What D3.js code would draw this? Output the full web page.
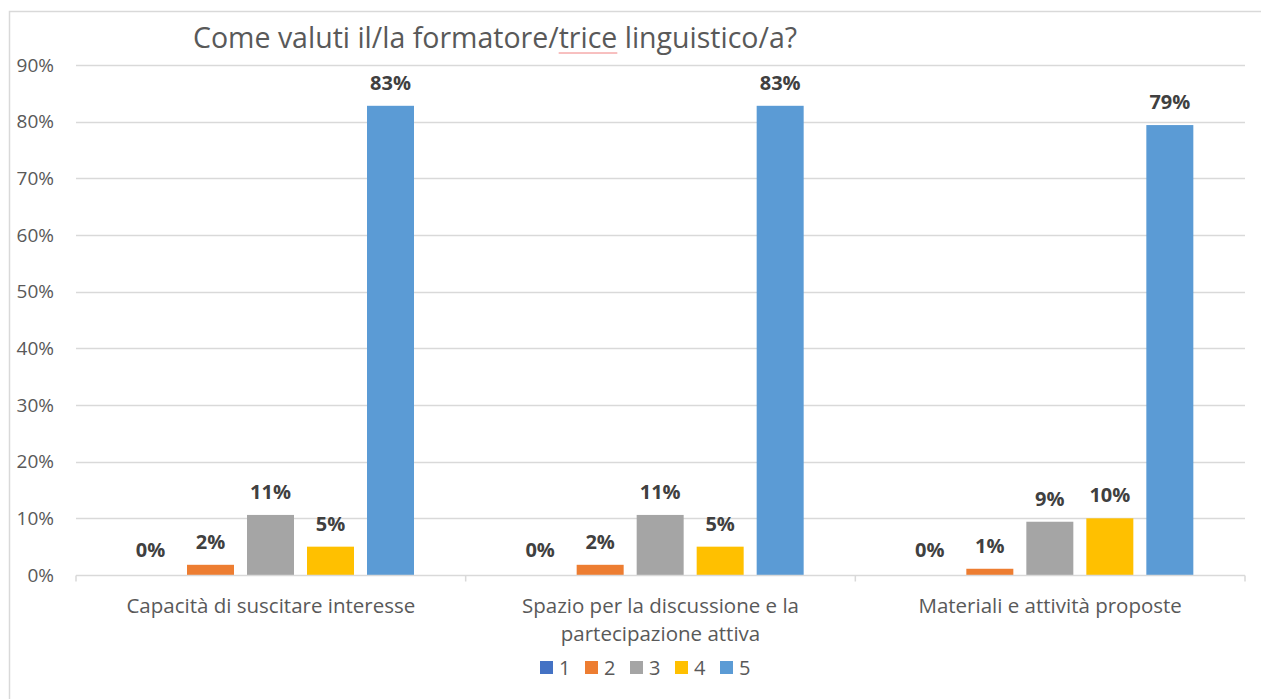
<!DOCTYPE html>
<html>
<head>
<meta charset="utf-8">
<script src="https://cdn.jsdelivr.net/npm/d3@7"></script>
<style>
  body { margin: 0; background: #fff; }
  text { font-family: "Open Sans", "Noto Sans", sans-serif; }
</style>
</head>
<body>
<div id="chart"></div>
<script>
var categories = [
  ["Capacità di suscitare interesse"],
  ["Spazio per la discussione e la", "partecipazione attiva"],
  ["Materiali e attività proposte"]
];
var series = ["1", "2", "3", "4", "5"];
var colors = ["#4472C4", "#ED7D31", "#A5A5A5", "#FFC000", "#5B9BD5"];
// one array per rating, one value per category
var rating1 = [0, 0, 0];
var rating2 = [0.018, 0.018, 0.011];
var rating3 = [0.106, 0.106, 0.094];
var rating4 = [0.05, 0.05, 0.10];
var rating5 = [0.828, 0.828, 0.794];
var yTicks = [0, 0.1, 0.2, 0.3, 0.4, 0.5, 0.6, 0.7, 0.8, 0.9];

var values = [rating1, rating2, rating3, rating4, rating5];

var width = 1261,
    height = 699;

var svg = d3.select("#chart")
    .append("svg")
    .attr("width", width)
    .attr("height", height);

// chart frame
svg.append("path")
    .attr("d", "M9.5," + height + "V11.5H" + width)
    .attr("fill", "none")
    .attr("stroke", "#d9d9d9")
    .attr("stroke-width", 1.5);

var x0 = d3.scaleBand()
    .domain(d3.range(categories.length))
    .range([76, 1245]);

var x1 = d3.scaleBand()
    .domain(series)
    .range([51, 338])
    .paddingInner(0.2167);

var y = d3.scaleLinear()
    .domain([0, 0.9])
    .range([575, 65]);

// gridlines
svg.append("g")
    .selectAll("line")
    .data(yTicks.slice(1))
    .join("line")
    .attr("x1", 76)
    .attr("x2", 1245)
    .attr("y1", function(d) { return Math.round(y(d)) + 0.5; })
    .attr("y2", function(d) { return Math.round(y(d)) + 0.5; })
    .attr("stroke", "#d9d9d9")
    .attr("stroke-width", 1.3);

// y axis labels
var yAxis = d3.axisLeft(y)
    .tickValues(yTicks)
    .tickFormat(d3.format(".0%"))
    .tickSize(0)
    .tickPadding(22);

svg.append("g")
    .attr("transform", "translate(76,0)")
    .call(yAxis)
    .call(function(g) { g.select(".domain").remove(); })
    .selectAll("text")
    .attr("fill", "#595959")
    .style("font-size", "19px")
    .style("font-family", "'Open Sans', sans-serif");

// bars
var groups = svg.append("g")
    .selectAll("g")
    .data(categories)
    .join("g")
    .attr("transform", function(d, i) { return "translate(" + x0(i) + ",0)"; });

var cells = groups.selectAll("g")
    .data(function(d, i) {
      return series.map(function(s, k) { return { s: s, k: k, v: values[k][i] }; });
    })
    .join("g");

cells.append("rect")
    .attr("x", function(d) { return x1(d.s); })
    .attr("width", x1.bandwidth())
    .attr("y", function(d) { return y(d.v); })
    .attr("height", function(d) { return y(0) - y(d.v); })
    .attr("fill", function(d) { return colors[d.k]; });

cells.append("text")
    .attr("x", function(d) { return x1(d.s) + x1.bandwidth() / 2; })
    .attr("y", function(d) { return y(d.v) - (d.v === 0 ? 18 : 16); })
    .attr("text-anchor", "middle")
    .attr("fill", "#404040")
    .style("font-size", "20px")
    .style("font-weight", "bold")
    .text(function(d) { return d3.format(".0%")(d.v); });

// x axis line and ticks
var axisG = svg.append("g")
    .attr("transform", "translate(0," + (y(0) + 0.5) + ")");

axisG.append("line")
    .attr("x1", 76)
    .attr("x2", 1245)
    .attr("stroke", "#d9d9d9")
    .attr("stroke-width", 1.5);

axisG.selectAll(".tk")
    .data(d3.range(categories.length + 1))
    .join("line")
    .attr("class", "tk")
    .attr("x1", function(i) { return i < categories.length ? x0(i) : x0.range()[1]; })
    .attr("x2", function(i) { return i < categories.length ? x0(i) : x0.range()[1]; })
    .attr("y1", 0)
    .attr("y2", 6)
    .attr("stroke", "#d9d9d9")
    .attr("stroke-width", 1.5);

// category labels
var catText = svg.append("g")
    .selectAll("text")
    .data(categories)
    .join("text")
    .attr("text-anchor", "middle")
    .attr("fill", "#595959")
    .style("font-size", "20.5px")
    .attr("transform", function(d, i) { return "translate(" + (x0(i) + x0.bandwidth() / 2) + ",613)"; });

catText.selectAll("tspan")
    .data(function(d) { return d; })
    .join("tspan")
    .attr("x", 0)
    .attr("y", function(d, i) { return i * 28; })
    .text(function(d) { return d; });

// title
var title = svg.append("text")
    .attr("x", 193)
    .attr("y", 48)
    .attr("fill", "#595959")
    .style("font-size", "28.5px")
    .text("Come valuti il/la formatore/trice linguistico/a?");

// spellcheck squiggle under "trice"
var str = title.text();
var idx = str.indexOf("trice");
var node = title.node();
var sx = node.getStartPositionOfChar(idx).x;
var ex = node.getEndPositionOfChar(idx + 4).x;
svg.append("line")
    .attr("x1", sx)
    .attr("x2", ex)
    .attr("y1", 53)
    .attr("y2", 53)
    .attr("stroke", "#f08080")
    .attr("stroke-width", 1);

// legend
var legend = svg.append("g")
    .selectAll("g")
    .data(series)
    .join("g")
    .attr("transform", function(d, i) { return "translate(" + (540 + i * 45) + ",661)"; });

legend.append("rect")
    .attr("width", 13)
    .attr("height", 13)
    .attr("fill", function(d, i) { return colors[i]; });

legend.append("text")
    .attr("x", 19)
    .attr("y", 14)
    .attr("fill", "#595959")
    .style("font-size", "20px")
    .text(function(d) { return d; });
</script>
</body>
</html>
